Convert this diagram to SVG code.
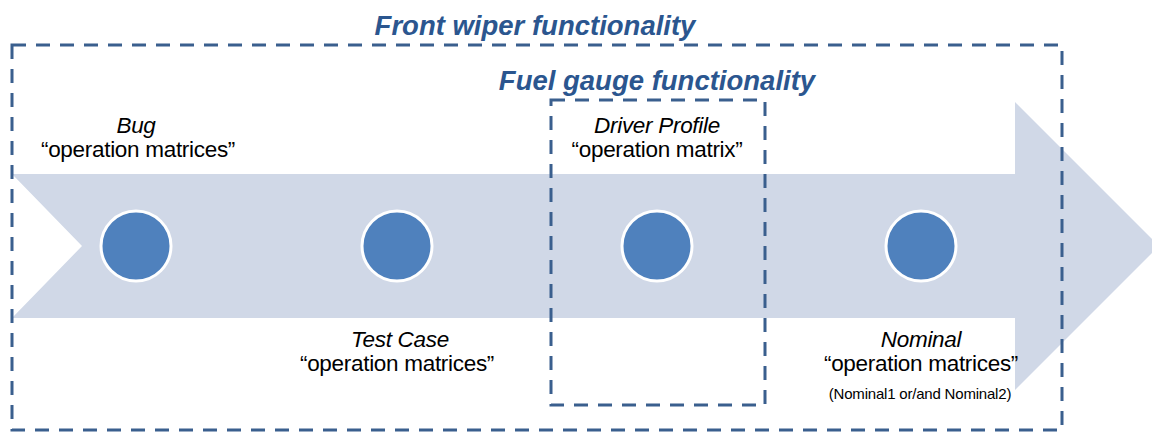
<svg xmlns="http://www.w3.org/2000/svg" width="1152" height="432" viewBox="0 0 1152 432">
<style>
.title{font-family:"Liberation Sans",Arial,sans-serif;font-weight:bold;font-style:italic;font-size:27.5px;fill:#2B568F;text-anchor:middle}
.lbl{font-family:"Liberation Sans",Arial,sans-serif;font-size:22.5px;fill:#000;text-anchor:middle;letter-spacing:-0.3px}
.it{font-style:italic}
.small{font-family:"Liberation Sans",Arial,sans-serif;font-size:15px;fill:#000;text-anchor:middle;letter-spacing:-0.2px}
.dash{fill:none;stroke:#3A5F8E;stroke-width:3;stroke-dasharray:14 10}
.dot{fill:#4F81BD;stroke:#fff;stroke-width:3}
</style>
<rect width="1152" height="432" fill="#fff"/>
<g id="arrow">
<polygon points="12,174 1015,174 1015,102 1159,246 1015,390 1015,318 12,318 82,246" fill="#D0D8E7"/>
</g>
<g id="front-wiper">
<rect class="dash" x="12" y="45" width="1050" height="385"/>
<text class="title" x="535" y="35">Front wiper functionality</text>
</g>
<g id="fuel-gauge">
<rect class="dash" x="551" y="100" width="214" height="305"/>
<text class="title" x="657" y="90">Fuel gauge functionality</text>
</g>
<g id="bug">
<circle class="dot" cx="136" cy="246" r="35"/>
<text class="lbl it" x="136" y="133">Bug</text>
<text class="lbl" x="138" y="157">“operation matrices”</text>
</g>
<g id="testcase">
<circle class="dot" cx="397" cy="246" r="35"/>
<text class="lbl it" x="400" y="347">Test Case</text>
<text class="lbl" x="397" y="371">“operation matrices”</text>
</g>
<g id="driverprofile">
<circle class="dot" cx="657" cy="246" r="35"/>
<text class="lbl it" x="657" y="133">Driver Profile</text>
<text class="lbl" x="657" y="157">“operation matrix”</text>
</g>
<g id="nominal">
<circle class="dot" cx="921" cy="246" r="35"/>
<text class="lbl it" x="921" y="347">Nominal</text>
<text class="lbl" x="921" y="371">“operation matrices”</text>
<text class="small" x="920" y="399">(Nominal1 or/and Nominal2)</text>
</g>
<g id="connectors"></g>
</svg>
